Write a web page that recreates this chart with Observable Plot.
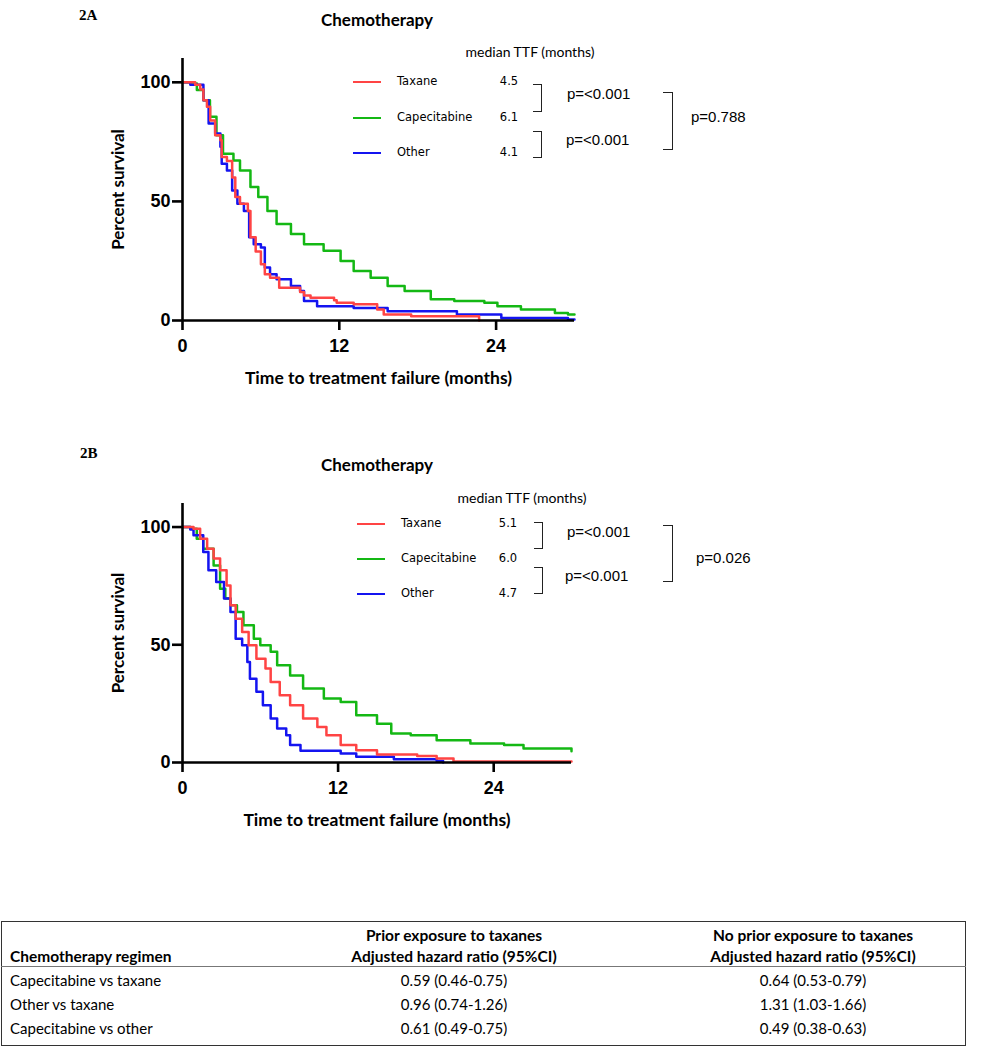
<!DOCTYPE html>
<html><head><meta charset="utf-8">
<script src="https://cdn.jsdelivr.net/npm/d3@7"></script>
<script src="https://cdn.jsdelivr.net/npm/@observablehq/plot@0.6"></script>
<style>
body{margin:0;background:#fff;}
#root{position:relative;width:987px;height:1050px;overflow:hidden;background:#fff;}
.abs{position:absolute;white-space:nowrap;line-height:1;}
.panel{font-family:"Liberation Serif","Times New Roman",serif;font-weight:bold;font-size:15px;}
.title{font-family:Lato,sans-serif;font-weight:bold;font-size:17px;}
.med{font-family:Lato,sans-serif;font-size:14px;}
.leg{font-family:"DejaVu Sans",sans-serif;font-size:11.5px;}
.pv{font-family:"Liberation Sans",Arial,sans-serif;font-size:15px;}
.tb{font-family:Lato,sans-serif;font-size:15px;}
.tbh{font-family:Lato,sans-serif;font-size:15.5px;font-weight:bold;}
svg{position:absolute;left:0;}
</style></head>
<body><div id="root"></div>
<script>
// ---------- DATA ----------
const groups = ["Taxane", "Capecitabine", "Other"];
const colors = ["#ff4444", "#14b814", "#1414f0"];
const xTicks = [0, 12, 24];
const yTicks = [0, 50, 100];
const xMax = 30;
const yMax = 110;
const xLabel = "Time to treatment failure (months)";
const yLabel = "Percent survival";
const title = "Chemotherapy";
const medianHeader = "median TTF (months)";

// Panel 2A
const taxaneA_t = [0, 0.97, 1.36, 1.6, 1.87, 2.12, 2.5, 2.9, 3.0, 3.4, 3.8, 4.04, 4.4, 5.0, 5.2, 5.6, 6.0, 6.3, 6.7, 7.4, 9.0, 9.3, 9.8, 11.6, 11.8, 13.1, 14.9, 15.4, 17.5, 22.7];
const taxaneA_s = [100, 99, 97, 92.5, 89.7, 84, 77.8, 75.7, 68.6, 67, 60, 51.8, 49, 46, 35, 29, 23.6, 19.4, 18, 13.8, 12, 10.5, 9.6, 8.5, 7.5, 6.8, 4.6, 2.5, 1.8, 0];
const capeA_t = [0, 0.6, 1.1, 1.6, 2.1, 2.6, 3.1, 3.9, 4.4, 5.2, 5.8, 6.5, 7.2, 8.3, 9.3, 10.8, 12.1, 13.1, 14.4, 15.7, 17, 19, 20.8, 23.1, 24.1, 25.9, 28.5, 29.5, 30];
const capeA_s = [100, 99.5, 96.8, 92.5, 85.5, 77.8, 70, 67.2, 63, 56, 51.8, 46, 40.5, 36.3, 32, 29.3, 25, 20.8, 18, 14.5, 12.4, 8.9, 8.2, 7.5, 6, 4.6, 3.2, 2.5, 2.5];
const otherA_t = [0, 0.6, 1.6, 2.0, 2.5, 2.9, 3.0, 3.4, 3.8, 4.2, 4.7, 5.1, 5.45, 6.0, 6.3, 6.7, 7.2, 8.3, 9.0, 9.3, 10.3, 13.1, 15.7, 21, 24.4, 29.5, 30];
const otherA_s = [100, 99, 92.5, 82.7, 78.5, 72.9, 65.8, 63, 54.6, 49, 46, 35, 32, 30.7, 22.2, 19.4, 17.3, 14.5, 12.4, 8.2, 6, 5.3, 3.9, 2.5, 1.1, 0.4, 0.4];
const mediansA = ["4.5", "6.1", "4.1"];
const pValuesA = ["p=<0.001", "p=<0.001", "p=0.788"];

// Panel 2B
const taxaneB_t = [0, 0.85, 1.36, 1.9, 2.4, 2.9, 3.4, 3.7, 4.1, 4.6, 5.1, 5.7, 6.4, 6.8, 7.5, 8.3, 9.3, 10.4, 11.1, 12.2, 13.4, 15.0, 18.1, 19.6, 20.9, 30];
const taxaneB_s = [100, 99.3, 95, 90.8, 86.6, 81.6, 75.2, 66.8, 61.1, 55.4, 49.8, 44.1, 39.9, 34.2, 28.6, 24.3, 18.7, 15.1, 11.6, 7.4, 5.2, 3.4, 2.8, 1.7, 0.4, 0.4];
const capeB_t = [0, 0.6, 1.1, 1.6, 2.4, 2.9, 3.3, 3.7, 4.2, 4.7, 5.5, 6.0, 6.8, 7.3, 8.3, 9.3, 10.9, 12.2, 13.4, 15.0, 16.1, 17.6, 19.6, 22.2, 24.8, 26.3, 30];
const capeB_s = [100, 99.3, 95, 90.8, 83.7, 73.8, 69.6, 66.8, 63.9, 58.3, 52.6, 49.8, 47, 41.3, 37, 31.4, 27.2, 25.7, 20.1, 16.5, 12.3, 11.6, 9.5, 8.1, 7.4, 5.9, 4.8];
const otherB_t = [0, 0.6, 0.85, 1.6, 2.0, 2.6, 3.2, 3.7, 4.1, 4.6, 5.0, 5.2, 5.7, 6.2, 6.8, 7.3, 8.0, 8.3, 9.1, 12.2, 13.4, 16.3, 19.6, 20.1];
const otherB_s = [100, 99, 96.5, 89.4, 81.6, 76.7, 69.6, 63.9, 52.6, 49.8, 42.7, 35.6, 30, 24.3, 18.7, 14.4, 11.6, 7.4, 5, 3.8, 2.4, 1.4, 0.6, 0];
const mediansB = ["5.1", "6.0", "4.7"];
const pValuesB = ["p=<0.001", "p=<0.001", "p=0.026"];

// Table
const tableHeader1 = ["", "Prior exposure to taxanes", "No prior exposure to taxanes"];
const tableHeader2 = ["Chemotherapy regimen", "Adjusted hazard ratio (95%CI)", "Adjusted hazard ratio (95%CI)"];
const comparisons = ["Capecitabine vs taxane", "Other vs taxane", "Capecitabine vs other"];
const hrPrior = ["0.59 (0.46-0.75)", "0.96 (0.74-1.26)", "0.61 (0.49-0.75)"];
const hrNoPrior = ["0.64 (0.53-0.79)", "1.31 (1.03-1.66)", "0.49 (0.38-0.63)"];

// ---------- BUILD ----------
const root = document.getElementById("root");
function series(t, s) { return t.map((v, i) => ({t: v, s: s[i]})); }
function txt(s, x, y, cls, anchor) {
  const d = document.createElement("div");
  d.className = "abs " + cls;
  d.textContent = s;
  d.style.left = x + "px"; d.style.top = y + "px";
  d.style.transform = anchor === "middle" ? "translate(-50%,-50%)" : anchor === "end" ? "translate(-100%,-50%)" : "translate(0,-50%)";
  root.append(d);
  return d;
}
function box(x, y, w, h, css) {
  const d = document.createElement("div");
  d.style.position = "absolute";
  d.style.left = x + "px"; d.style.top = y + "px"; d.style.width = w + "px"; d.style.height = h + "px";
  Object.assign(d.style, css);
  root.append(d);
  return d;
}

function makePanel(cfg) {
  const sets = [series(cfg.tax[0], cfg.tax[1]), series(cfg.cap[0], cfg.cap[1]), series(cfg.oth[0], cfg.oth[1])];
  const order = [1, 2, 0];
  const fontTick = {fontSize: 18, fontWeight: "bold", fontFamily: "Liberation Sans, Arial, sans-serif"};
  const plot = Plot.plot({
    width: 987, height: cfg.height,
    marginLeft: 182, marginRight: cfg.marginRight, marginTop: 58, marginBottom: cfg.marginBottom,
    x: {domain: [0, xMax]},
    y: {domain: [0, yMax]},
    style: {background: "transparent", overflow: "visible"},
    marks: [
      ...order.map(i => Plot.line(sets[i], {x: "t", y: "s", curve: "step-after", stroke: colors[i], strokeWidth: 2.5})),
      Plot.ruleX([0], {y1: 0, y2: yMax, strokeWidth: 2.6, stroke: "#000"}),
      Plot.ruleY([0], {x1: 0, x2: xMax, strokeWidth: 2.6, stroke: "#000"}),
      Plot.axisY({ticks: yTicks, tickSize: 10, tickPadding: 2, strokeWidth: 2.6, label: null, ...fontTick}),
      Plot.axisX({ticks: xTicks, tickSize: 10, tickPadding: 9, strokeWidth: 2.6, label: null, ...fontTick}),
      Plot.text([xLabel], {text: d => d, frameAnchor: "bottom", textAnchor: "middle", lineAnchor: "middle", dy: 58, fontSize: 17.5, fontWeight: "bold", fontFamily: "Lato, sans-serif"}),
      Plot.text([yLabel], {text: d => d, frameAnchor: "left", textAnchor: "middle", lineAnchor: "middle", rotate: -90, dx: -64, fontSize: 17, fontWeight: "bold", fontFamily: "Lato, sans-serif"})
    ]
  });
  plot.style.top = cfg.top + "px";
  root.append(plot);

  // titles
  txt(cfg.panel, cfg.panelPos[0], cfg.panelPos[1], "panel", "start");
  txt(title, 377, cfg.titleY, "title", "middle");
  // legend
  const L = cfg.legend;
  txt(medianHeader, L.medX, L.medY, "med", "middle");
  groups.forEach((g, i) => {
    const y = L.rowY[i];
    box(L.lineX, y - 1.25, 28, 2.5, {background: colors[i]});
    txt(g, L.lineX + 44, y, "leg", "start");
    txt(cfg.medians[i], L.valX, y, "leg", "middle");
  });
  const br = {border: "1.5px solid #222", borderLeft: "none", boxSizing: "border-box"};
  box(L.bx - 8, L.b1[0], 9, L.b1[1] - L.b1[0], br);
  box(L.bx - 8, L.b2[0], 9, L.b2[1] - L.b2[0], br);
  box(663, L.b3[0], 10, L.b3[1] - L.b3[0], br);
  txt(cfg.pv[0], L.p1[0], L.p1[1], "pv", "start");
  txt(cfg.pv[1], L.p2[0], L.p2[1], "pv", "start");
  txt(cfg.pv[2], L.p3[0], L.p3[1], "pv", "start");
}

makePanel({
  top: 0, height: 400, marginRight: 987 - 574, marginBottom: 80,
  tax: [taxaneA_t, taxaneA_s], cap: [capeA_t, capeA_s], oth: [otherA_t, otherA_s],
  panel: "2A", panelPos: [79, 15], titleY: 19, medians: mediansA, pv: pValuesA,
  legend: {medX: 530, medY: 52, lineX: 353, rowY: [82, 118, 153], valX: 509, bx: 541,
    b1: [84, 112], b2: [131, 158], b3: [92, 150], p1: [567, 93], p2: [566, 139], p3: [691, 116]}
});
makePanel({
  top: 445, height: 397, marginRight: 987 - 571, marginBottom: 80,
  tax: [taxaneB_t, taxaneB_s], cap: [capeB_t, capeB_s], oth: [otherB_t, otherB_s],
  panel: "2B", panelPos: [80, 453], titleY: 464, medians: mediansB, pv: pValuesB,
  legend: {medX: 522, medY: 498, lineX: 357, rowY: [524, 559, 594], valX: 508, bx: 542,
    b1: [522, 549], b2: [567, 594], b3: [525, 582], p1: [567, 531], p2: [565, 575], p3: [696, 557]}
});

// table
box(1, 921, 965, 125, {border: "1.5px solid #333", boxSizing: "border-box"});
box(1, 966, 965, 1, {background: "#777"});
const colX = [10, 454, 813];
tableHeader1.forEach((h, j) => { if (h) txt(h, colX[j], 936, "tbh", "middle"); });
tableHeader2.forEach((h, j) => txt(h, colX[j], 957, "tbh", j === 0 ? "start" : "middle"));
const rowY = [980, 1004, 1028];
comparisons.forEach((c, i) => {
  txt(c, colX[0], rowY[i], "tb", "start");
  txt(hrPrior[i], colX[1], rowY[i], "tb", "middle");
  txt(hrNoPrior[i], colX[2], rowY[i], "tb", "middle");
});
</script></body></html>
